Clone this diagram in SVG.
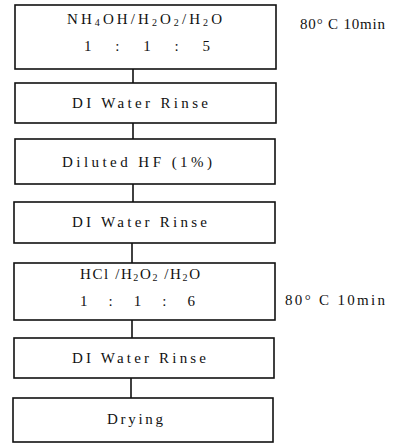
<svg xmlns="http://www.w3.org/2000/svg" width="395" height="445" viewBox="0 0 395 445">
<style>
.box{fill:#fff;stroke:#111;stroke-width:1.6}
.t{font-family:"Liberation Serif","Times New Roman",serif;font-size:15px;fill:#111}
.s{font-size:10px}
.c{stroke:#111;stroke-width:1.6;fill:none}
</style>
<rect width="395" height="445" fill="#fff"/>
<g id="connectors">
<line class="c" x1="133" y1="69" x2="133" y2="83"/>
<line class="c" x1="133" y1="123" x2="133" y2="139"/>
<line class="c" x1="133" y1="184" x2="133" y2="202"/>
<line class="c" x1="132" y1="243" x2="132" y2="263"/>
<line class="c" x1="132" y1="320" x2="132" y2="338"/>
<line class="c" x1="131" y1="378" x2="131" y2="398"/>
</g>
<g id="n1">
<rect class="box" x="15" y="5" width="261" height="64"/>
<text class="t" x="67" y="24" textLength="155" lengthAdjust="spacing">NH<tspan class="s" dy="2">4</tspan><tspan dy="-2">OH/H</tspan><tspan class="s" dy="2">2</tspan><tspan dy="-2">O</tspan><tspan class="s" dy="2">2</tspan><tspan dy="-2">/H</tspan><tspan class="s" dy="2">2</tspan><tspan dy="-2">O</tspan></text>
<text class="t" x="84" y="51" textLength="126" lengthAdjust="spacing">1 : 1 : 5</text>
</g>
<g id="l1"><text class="t" x="300" y="29" textLength="85" lengthAdjust="spacing">80° C 10min</text></g>
<g id="n2">
<rect class="box" x="15" y="83" width="261" height="40"/>
<text class="t" x="72" y="108" textLength="136" lengthAdjust="spacing">DI Water Rinse</text>
</g>
<g id="n3">
<rect class="box" x="15" y="139" width="260" height="45"/>
<text class="t" x="62" y="167" textLength="150" lengthAdjust="spacing">Diluted HF (1%)</text>
</g>
<g id="n4">
<rect class="box" x="14" y="202" width="261" height="41"/>
<text class="t" x="72" y="227" textLength="135" lengthAdjust="spacing">DI Water Rinse</text>
</g>
<g id="n5">
<rect class="box" x="14" y="263" width="261" height="57"/>
<text class="t" x="80" y="279" textLength="120" lengthAdjust="spacing">HCl /H<tspan class="s" dy="2">2</tspan><tspan dy="-2">O</tspan><tspan class="s" dy="2">2</tspan><tspan dy="-2"> /H</tspan><tspan class="s" dy="2">2</tspan><tspan dy="-2">O</tspan></text>
<text class="t" x="80" y="306" textLength="115" lengthAdjust="spacing">1 : 1 : 6</text>
</g>
<g id="l2"><text class="t" x="285" y="305" textLength="100" lengthAdjust="spacing">80° C 10min</text></g>
<g id="n6">
<rect class="box" x="14" y="338" width="260" height="40"/>
<text class="t" x="72" y="363" textLength="134" lengthAdjust="spacing">DI Water Rinse</text>
</g>
<g id="n7">
<rect class="box" x="13" y="398" width="260" height="44"/>
<text class="t" x="107" y="424" textLength="56" lengthAdjust="spacing">Drying</text>
</g>
</svg>
